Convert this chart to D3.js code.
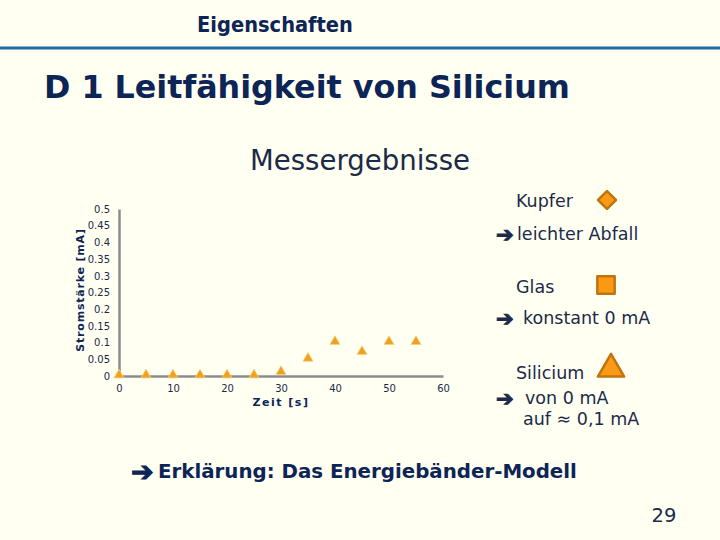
<!DOCTYPE html>
<html><head><meta charset="utf-8">
<script src="https://cdn.jsdelivr.net/npm/d3@7"></script>
<style>html,body{margin:0;padding:0;background:#fffff2;}svg{display:block;}</style>
</head><body>
<script>
const timeValues = [0, 5, 10, 15, 20, 25, 30, 35, 40, 45, 50, 55];
const siliciumValues = [0, 0, 0, 0, 0, 0, 0.01, 0.05, 0.1, 0.07, 0.1, 0.1];
const yTicks = [0, 0.05, 0.1, 0.15, 0.2, 0.25, 0.3, 0.35, 0.4, 0.45, 0.5];
const xTicks = [0, 10, 20, 30, 40, 50, 60];
const legendNames = ["Kupfer", "Glas", "Silicium"];
const legendSymbols = ["diamond", "square", "triangle"];
const legendNotes = [["leichter Abfall"], ["konstant 0 mA"], ["von 0 mA", "auf \u2248 0,1 mA"]];

const W = 720, H = 540;
const navy = "#0c2456", textDark = "#1b2a4a";
const svg = d3.select("body").append("svg").attr("width", W).attr("height", H);
svg.append("rect").attr("width", W).attr("height", H).attr("fill", "#fffff2");

function fitText(sel, target) {
  const w = sel.node().getComputedTextLength();
  const fs = parseFloat(sel.attr("font-size"));
  sel.attr("font-size", fs * target / w);
}
function arrow(xp, yp, fs, col) {
  return svg.append("text").attr("x", xp).attr("y", yp).attr("font-family", "DejaVu Sans")
    .attr("font-weight", "bold").attr("font-size", fs).attr("fill", col)
    .attr("stroke", col).attr("stroke-width", 1).text("\u2794");
}

// header
const h1 = svg.append("text").attr("x", 275).attr("y", 32).attr("text-anchor", "middle")
  .attr("font-family", "DejaVu Sans Condensed, DejaVu Sans").attr("font-weight", "bold")
  .attr("font-size", 18).attr("fill", navy).text("Eigenschaften");
fitText(h1, 156);
svg.append("line").attr("x1", 0).attr("x2", W).attr("y1", 48).attr("y2", 48)
  .attr("stroke", "#1e6aa5").attr("stroke-width", 3);
const t1 = svg.append("text").attr("x", 44).attr("y", 98)
  .attr("font-family", "DejaVu Sans").attr("font-weight", "bold")
  .attr("font-size", 30).attr("fill", navy).text("D 1 Leitfähigkeit von Silicium");
fitText(t1, 526);

const t2 = svg.append("text").attr("x", 360).attr("y", 170).attr("text-anchor", "middle")
  .attr("font-family", "DejaVu Sans").attr("font-size", 26).attr("fill", textDark).text("Messergebnisse");
fitText(t2, 220);

// chart
const x = d3.scaleLinear().domain([0, 60]).range([119, 443]);
const y = d3.scaleLinear().domain([0, 0.5]).range([376, 209]);
const g = svg.append("g");

const yAxis = g.append("g").attr("transform", `translate(${x(0)},0)`)
  .call(d3.axisLeft(y).tickValues(yTicks).tickSize(0).tickPadding(9).tickFormat(d => String(+d.toFixed(2))));
const xAxis = g.append("g").attr("transform", `translate(0,${y(0)})`)
  .call(d3.axisBottom(x).tickValues(xTicks).tickSize(0).tickPadding(9));
[yAxis, xAxis].forEach(a => {
  a.select(".domain").attr("stroke", "#8c8c8c").attr("stroke-width", 2.5);
  a.selectAll("text").attr("font-family", "DejaVu Sans").attr("font-size", 10).attr("fill", textDark);
});

svg.append("text").attr("transform", "translate(84,290) rotate(-90)").attr("text-anchor", "middle")
  .attr("font-family", "DejaVu Sans").attr("font-weight", "bold").attr("font-size", 11)
  .attr("letter-spacing", 0.8).attr("fill", navy).text("Stromstärke [mA]");
svg.append("text").attr("x", 281).attr("y", 406).attr("text-anchor", "middle")
  .attr("font-family", "DejaVu Sans").attr("font-weight", "bold").attr("font-size", 11)
  .attr("letter-spacing", 1.5).attr("fill", navy).text("Zeit [s]");

const tri = d3.symbol().type(d3.symbolTriangle).size(44);
g.selectAll("path.pt").data(timeValues.map((t, i) => ({t, v: siliciumValues[i]})))
  .join("path").attr("class", "pt")
  .attr("d", tri)
  .attr("transform", d => `translate(${x(d.t)},${y(d.v) - 1})`)
  .attr("fill", "#f0a020").attr("stroke", "#f7d27a").attr("stroke-width", 0.8);

// legend / notes
const symFill = "#fb9a14", symStroke = "#c0730f";
const legY = [[207, 200, 240], [293, 285, 324], [379, 369, 404]];
const noteX = [[517], [523], [525, 523]];
legendNames.forEach((name, i) => {
  const [ty, sy, ny] = legY[i];
  svg.append("text").attr("x", 516).attr("y", ty).attr("font-family", "DejaVu Sans")
    .attr("font-size", 17.5).attr("fill", textDark).text(name);
  let p;
  const s = legendSymbols[i];
  if (s === "diamond") {
    p = svg.append("path").attr("d", d3.symbol().type(d3.symbolSquare).size(160)())
      .attr("transform", `translate(607,${sy}) rotate(45)`);
  } else if (s === "square") {
    p = svg.append("path").attr("d", d3.symbol().type(d3.symbolSquare).size(300)())
      .attr("transform", `translate(606,${sy})`);
  } else {
    p = svg.append("path").attr("d", d3.symbol().type(d3.symbolTriangle).size(300)())
      .attr("transform", `translate(611,${sy})`);
  }
  p.attr("fill", symFill).attr("stroke", symStroke).attr("stroke-width", 2.5).attr("stroke-linejoin", "round");
  arrow(496, ny + 2, 21, textDark);
  legendNotes[i].forEach((n, k) => {
    svg.append("text").attr("x", noteX[i][k]).attr("y", ny + k * 21)
      .attr("font-family", "DejaVu Sans").attr("font-size", 17.5).attr("fill", textDark).text(n);
  });
});

// bottom
arrow(131, 481, 27, navy);
const b = svg.append("text").attr("x", 158).attr("y", 478).attr("font-family", "DejaVu Sans").attr("font-weight", "bold")
  .attr("font-size", 18).attr("fill", navy).text("Erklärung: Das Energiebänder-Modell");
fitText(b, 419);
svg.append("text").attr("x", 664).attr("y", 522).attr("text-anchor", "middle").attr("font-family", "DejaVu Sans")
  .attr("font-size", 19.5).attr("fill", textDark).text("29");
</script>
</body></html>
